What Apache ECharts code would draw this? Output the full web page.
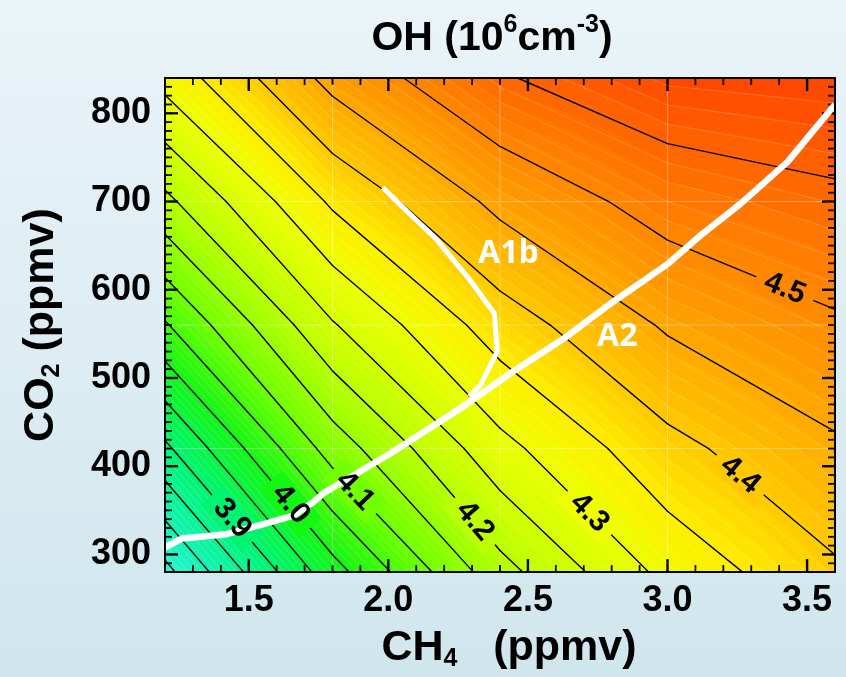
<!DOCTYPE html>
<html>
<head>
<meta charset="utf-8">
<script src="https://cdn.jsdelivr.net/npm/echarts@6.0.0/dist/echarts.min.js"></script>
<style>
html, body { margin: 0; padding: 0; }
#chart { width: 846px; height: 677px; }
</style>
</head>
<body>
<div id="chart"></div>
<script>
// model grid: CH4 (ppmv) columns and CO2 (ppmv) rows
const ch4Grid = [1.2, 1.8, 2.4, 3.0, 3.6]
const co2Grid = [280, 420, 560, 700, 840]
// OH (10^6 cm^-3) at the grid nodes, one row per CO2 value
const oh280 = [3.735, 3.980, 4.182, 4.315, 4.393]
const oh420 = [3.890, 4.122, 4.285, 4.386, 4.443]
const oh560 = [4.045, 4.246, 4.376, 4.456, 4.494]
const oh700 = [4.188, 4.358, 4.463, 4.520, 4.541]
const oh840 = [4.318, 4.466, 4.546, 4.584, 4.590]
const ohRows = [oh280, oh420, oh560, oh700, oh840]

// scenario paths
const a2CH4 = [1.20, 1.26, 1.42, 1.55, 1.66, 1.73, 1.77, 1.85, 2.01, 2.26, 2.45, 2.63, 2.79, 3.00, 3.12, 3.26, 3.43, 3.60]
const a2CO2 = [308, 318, 323, 334, 344, 359, 370, 385, 415, 466, 508, 545, 583, 629, 662, 697, 745, 810]
const a1bCH4 = [1.98, 2.07, 2.17, 2.29, 2.38, 2.39, 2.33, 2.29]
const a1bCO2 = [716, 688, 658, 612, 573, 530, 492, 479]
const scenarioNames = ['A1b', 'A2']
const scenarioLabelCH4 = [2.43, 2.82]
const scenarioLabelCO2 = [641, 547]

// contour labels (placed on the line of that level at this CH4)
const labelLevels = [3.9, 4.0, 4.1, 4.2, 4.3, 4.4, 4.5]
const labelCH4 = [1.44, 1.65, 1.88, 2.31, 2.72, 3.26, 3.42]

const xTickLabels = [1.5, 2.0, 2.5, 3.0, 3.5]
const yTickLabels = [300, 400, 500, 600, 700, 800]

// colour scale
const cmapValues = [3.70, 3.80, 3.90, 4.00, 4.10, 4.20, 4.30, 4.35, 4.40, 4.45, 4.50, 4.55, 4.60]
const cmapColors = ['#3ff5e8', '#12f4b4', '#00f470', '#14f614', '#72ff00', '#bbff00', '#eeff00', '#ffee00', '#ffc800', '#ffa800', '#ff8800', '#ff6400', '#ff3c00']

const FONT = 'Liberation Sans'
const X_MIN = 1.2, X_MAX = 3.6, Y_MIN = 280, Y_MAX = 840
const chartDom = document.getElementById('chart')
const myChart = echarts.init(chartDom)

function hexRgb(h) {
  return [parseInt(h.slice(1, 3), 16), parseInt(h.slice(3, 5), 16), parseInt(h.slice(5, 7), 16)]
}
const cmapRgb = cmapColors.map(hexRgb)

function colorAt(v) {
  if (v <= cmapValues[0]) return cmapRgb[0]
  const n = cmapValues.length
  if (v >= cmapValues[n - 1]) return cmapRgb[n - 1]
  let k = 0
  while (v > cmapValues[k + 1]) k++
  const t = (v - cmapValues[k]) / (cmapValues[k + 1] - cmapValues[k])
  const a = cmapRgb[k], b = cmapRgb[k + 1]
  return [a[0] + (b[0] - a[0]) * t, a[1] + (b[1] - a[1]) * t, a[2] + (b[2] - a[2]) * t]
}
function cssColor(v) {
  const c = colorAt(v)
  return 'rgb(' + Math.round(c[0]) + ',' + Math.round(c[1]) + ',' + Math.round(c[2]) + ')'
}

function cellIndex(arr, v) {
  let i = 0
  while (i < arr.length - 2 && v > arr[i + 1]) i++
  return i
}
// bilinear value inside the grid cell
function ohAt(x, y) {
  const i = cellIndex(ch4Grid, x), j = cellIndex(co2Grid, y)
  const t = (x - ch4Grid[i]) / (ch4Grid[i + 1] - ch4Grid[i])
  const u = (y - co2Grid[j]) / (co2Grid[j + 1] - co2Grid[j])
  const r0 = ohRows[j], r1 = ohRows[j + 1]
  return (1 - t) * (1 - u) * r0[i] + t * (1 - u) * r0[i + 1] + (1 - t) * u * r1[i] + t * u * r1[i + 1]
}

// marching squares on the model grid
function segmentsFor(level) {
  const segs = []
  for (let j = 0; j < co2Grid.length - 1; j++) {
    for (let i = 0; i < ch4Grid.length - 1; i++) {
      const x0 = ch4Grid[i], x1 = ch4Grid[i + 1], y0 = co2Grid[j], y1 = co2Grid[j + 1]
      const a = ohRows[j][i], b = ohRows[j][i + 1], c = ohRows[j + 1][i + 1], d = ohRows[j + 1][i]
      const pts = []
      const edge = (va, vb, pa, pb) => {
        if ((va < level) !== (vb < level)) {
          const t = (level - va) / (vb - va)
          pts.push([pa[0] + t * (pb[0] - pa[0]), pa[1] + t * (pb[1] - pa[1])])
        }
      }
      edge(a, b, [x0, y0], [x1, y0])
      edge(b, c, [x1, y0], [x1, y1])
      edge(c, d, [x1, y1], [x0, y1])
      edge(d, a, [x0, y1], [x0, y0])
      for (let k = 0; k + 1 < pts.length; k += 2) {
        segs.push([pts[k][0], pts[k][1], pts[k + 1][0], pts[k + 1][1], level])
      }
    }
  }
  return segs
}

let majorSegs = []
for (let k = 74; k <= 92; k++) majorSegs = majorSegs.concat(segmentsFor(k / 20))
let faintSegs = []
for (let k = 370; k <= 460; k++) if (k % 5 !== 0) faintSegs = faintSegs.concat(segmentsFor(k / 100))

const labelData = labelLevels.map((lv, n) => {
  const x = labelCH4[n]
  const seg = segmentsFor(lv).find(s => Math.min(s[0], s[2]) <= x && x <= Math.max(s[0], s[2]))
  const t = (x - seg[0]) / (seg[2] - seg[0])
  return [x, seg[1] + t * (seg[3] - seg[1]), lv, seg[0], seg[1], seg[2], seg[3]]
})

function labelItem(api, withText) {
  const lv = api.value(2)
  const p = api.coord([api.value(0), api.value(1)])
  const q1 = api.coord([api.value(3), api.value(4)])
  const q2 = api.coord([api.value(5), api.value(6)])
  let ang = Math.atan2(q2[1] - q1[1], q2[0] - q1[0])
  if (ang > Math.PI / 2) ang -= Math.PI
  if (ang < -Math.PI / 2) ang += Math.PI
  const font = 'bold 30px "' + FONT + '"'
  return {
    type: 'text', x: p[0], y: p[1], rotation: -ang,
    style: withText
      ? { text: lv.toFixed(1), fill: '#000', font: font, align: 'center', verticalAlign: 'middle' }
      : { text: lv.toFixed(1), fill: 'rgba(0,0,0,0)', font: font, align: 'center', verticalAlign: 'middle',
          backgroundColor: cssColor(lv), padding: [0, 10] }
  }
}

function segItem(api, stroke, width) {
  const p1 = api.coord([api.value(0), api.value(1)])
  const p2 = api.coord([api.value(2), api.value(3)])
  return { type: 'line', shape: { x1: p1[0], y1: p1[1], x2: p2[0], y2: p2[1] }, style: { stroke: stroke, lineWidth: width, lineCap: 'round' } }
}

// inward ticks on the four sides of the plot frame, as filled rects
function tickRects(api) {
  const out = []
  const add = (p, dx, dy, major) => {
    const w = major ? 2.4 : 1.8
    const x = dx === 0 ? p[0] - w / 2 : Math.min(p[0], p[0] + dx)
    const y = dy === 0 ? p[1] - w / 2 : Math.min(p[1], p[1] + dy)
    out.push({ type: 'rect', shape: { x: x, y: y, width: dx === 0 ? w : Math.abs(dx), height: dy === 0 ? w : Math.abs(dy) }, style: { fill: '#000' } })
  }
  for (let k = 13; k <= 35; k++) {
    const x = k / 10
    const major = xTickLabels.some(v => Math.abs(v - x) < 1e-6)
    const len = major ? 13 : 7
    add(api.coord([x, Y_MIN]), 0, -len, major)
    add(api.coord([x, Y_MAX]), 0, len, major)
  }
  for (let y = 290; y <= 830; y += 10) {
    const major = yTickLabels.indexOf(y) >= 0
    const len = major ? 13 : 7
    add(api.coord([X_MIN, y]), len, 0, major)
    add(api.coord([X_MAX, y]), -len, 0, major)
  }
  return out
}

const tickFont = { color: '#000', fontSize: 36, fontWeight: 'bold', fontFamily: FONT }
const frame = { show: true, onZero: false, lineStyle: { color: '#000', width: 2 } }

function makeAxis(kind, position) {
  const isX = kind === 'x'
  return {
    type: 'value', position: position, z: 20,
    min: isX ? X_MIN : Y_MIN, max: isX ? X_MAX : Y_MAX,
    splitLine: { show: false },
    axisLine: frame,
    axisTick: { show: false },
    axisLabel: { show: false }
  }
}

const nameStyle = {
  color: '#000', fontSize: 43, fontWeight: 'bold', fontFamily: FONT, lineHeight: 48,
  rich: { sub: { fontSize: 25, fontWeight: 'bold', fontFamily: FONT, verticalAlign: 'bottom', lineHeight: 46 } }
}
const xMain = makeAxis('x', 'bottom')
xMain.axisLabel = Object.assign({ show: true, customValues: xTickLabels, margin: 11, formatter: v => v.toFixed(1) }, tickFont)
xMain.name = 'CH{sub|4}   (ppmv)'
xMain.nameLocation = 'middle'
xMain.nameGap = 44
xMain.nameTextStyle = Object.assign({ padding: [0, 0, 0, 18] }, nameStyle)
const yMain = makeAxis('y', 'left')
yMain.axisLabel = Object.assign({ show: true, customValues: yTickLabels, margin: 14 }, tickFont)
yMain.name = 'CO{sub|2} (ppmv)'
yMain.nameLocation = 'middle'
yMain.nameGap = 100
yMain.nameTextStyle = nameStyle

const option = {
  animation: false,
  backgroundColor: {
    type: 'linear', x: 0, y: 0, x2: 0, y2: 1,
    colorStops: [{ offset: 0, color: '#eaf4f9' }, { offset: 1, color: '#d0e6ed' }]
  },
  title: {
    text: 'OH (10{sup|6}cm{sup|-3})',
    left: 487, top: 8, textAlign: 'center',
    textStyle: {
      color: '#000', fontSize: 41, fontWeight: 'bold', fontFamily: FONT, lineHeight: 52,
      rich: { sup: { fontSize: 25, fontWeight: 'bold', fontFamily: FONT, verticalAlign: 'top', lineHeight: 44 } }
    }
  },
  grid: { left: 165, right: 11, top: 78, bottom: 102 },
  xAxis: [xMain, makeAxis('x', 'top')],
  yAxis: [yMain, makeAxis('y', 'right')],
  series: [
    {
      // filled field, model grid lines and frame ticks
      type: 'custom', silent: true, z: 1,
      data: [[X_MIN, Y_MIN]],
      renderItem: function (params, api) {
        const tl = api.coord([X_MIN, Y_MAX])
        const br = api.coord([X_MAX, Y_MIN])
        const w = Math.round(br[0] - tl[0]), h = Math.round(br[1] - tl[1])
        const cv = document.createElement('canvas')
        cv.width = w; cv.height = h
        const ctx = cv.getContext('2d')
        const img = ctx.createImageData(w, h)
        for (let py = 0; py < h; py++) {
          const y = Y_MAX - (py + 0.5) / h * (Y_MAX - Y_MIN)
          for (let px = 0; px < w; px++) {
            const x = X_MIN + (px + 0.5) / w * (X_MAX - X_MIN)
            const v = (Math.floor(ohAt(x, y) * 100) + 0.5) / 100
            const c = colorAt(v)
            const o = (py * w + px) * 4
            img.data[o] = c[0]; img.data[o + 1] = c[1]; img.data[o + 2] = c[2]; img.data[o + 3] = 255
          }
        }
        ctx.putImageData(img, 0, 0)
        const children = [{ type: 'image', style: { image: cv, x: tl[0], y: tl[1], width: w, height: h } }]
        ch4Grid.slice(1, -1).forEach(x => {
          const a = api.coord([x, Y_MIN]), b = api.coord([x, Y_MAX])
          children.push({ type: 'line', shape: { x1: a[0], y1: a[1], x2: b[0], y2: b[1] }, style: { stroke: 'rgba(255,255,255,0.35)', lineWidth: 1 } })
        })
        co2Grid.slice(1, -1).forEach(y => {
          const a = api.coord([X_MIN, y]), b = api.coord([X_MAX, y])
          children.push({ type: 'line', shape: { x1: a[0], y1: a[1], x2: b[0], y2: b[1] }, style: { stroke: 'rgba(255,255,255,0.35)', lineWidth: 1 } })
        })
        tickRects(api).forEach(r => children.push(r))
        return { type: 'group', children: children }
      }
    },
    {
      type: 'custom', silent: true, z: 2, data: faintSegs, encode: { x: [0, 2], y: [1, 3] },
      renderItem: (params, api) => segItem(api, 'rgba(255,255,255,0.22)', 0.8)
    },
    {
      type: 'custom', silent: true, z: 3, data: majorSegs, encode: { x: [0, 2], y: [1, 3] },
      renderItem: (params, api) => segItem(api, '#000', 1.4)
    },
    {
      type: 'custom', silent: true, z: 4, data: labelData, encode: { x: 0, y: 1 },
      renderItem: (params, api) => labelItem(api, false)
    },
    {
      type: 'line', z: 5, symbol: 'none', silent: true,
      data: a2CH4.map((x, i) => [x, a2CO2[i]]),
      lineStyle: { color: '#fff', width: 6.5 }
    },
    {
      type: 'line', z: 5, symbol: 'none', silent: true,
      data: a1bCH4.map((x, i) => [x, a1bCO2[i]]),
      lineStyle: { color: '#fff', width: 5 }
    },
    {
      type: 'custom', silent: true, z: 6, data: labelData, encode: { x: 0, y: 1 },
      renderItem: (params, api) => labelItem(api, true)
    },
    {
      type: 'scatter', z: 7, symbolSize: 0, silent: true,
      itemStyle: { opacity: 1 },
      data: scenarioNames.map((s, i) => ({ value: [scenarioLabelCH4[i], scenarioLabelCO2[i]], name: s })),
      label: {
        show: true, position: 'inside', formatter: p => p.name, opacity: 1,
        color: '#ffffff', fontSize: 32, fontWeight: 'bold', fontFamily: 'Open Sans'
      }
    }
  ]
}

option && myChart.setOption(option)
</script>
</body>
</html>
